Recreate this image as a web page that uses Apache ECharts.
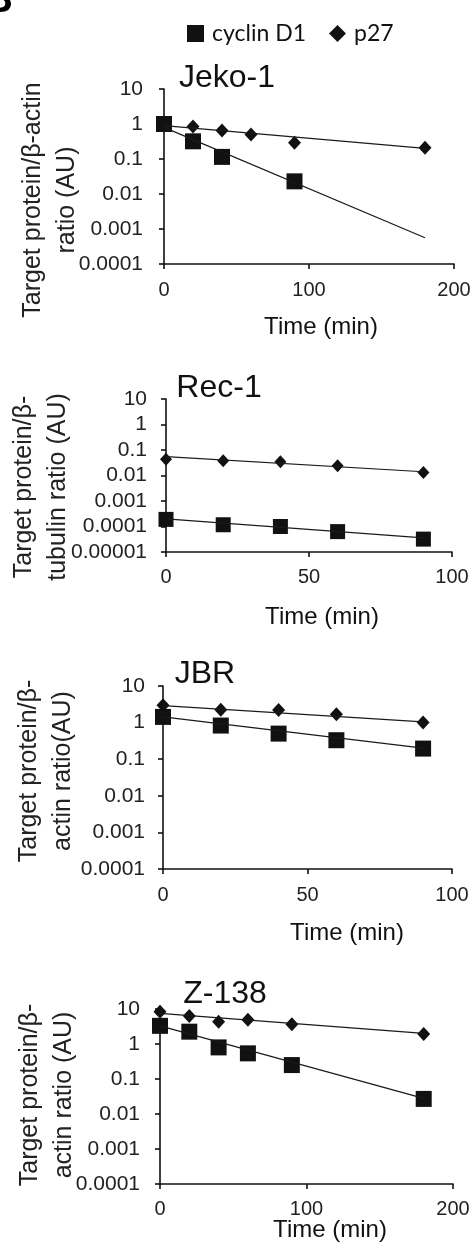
<!DOCTYPE html>
<html>
<head>
<meta charset="utf-8">
<script src="https://cdn.jsdelivr.net/npm/echarts@6/dist/echarts.min.js"></script>
<style>
html, body { margin: 0; padding: 0; background: #fff; }
#chart { width: 476px; height: 1244px; }
</style>
</head>
<body>
<div id="chart"></div>
<script>
// tick labels of the log axes
const yTicks4 = ['0.0001', '0.001', '0.01', '0.1', '1', '10'];
const yTicks5 = ['0.00001', '0.0001', '0.001', '0.01', '0.1', '1', '10'];

// Jeko-1
const jekoCycTime = [0, 20, 40, 90];
const jekoCyc = [1.0, 0.32, 0.115, 0.023];
const jekoP27Time = [0, 20, 40, 60, 90, 180];
const jekoP27 = [0.95, 0.85, 0.65, 0.5, 0.29, 0.21];
const jekoFitTime = [0, 180];
const jekoCycFit = [0.8, 0.00056];
const jekoP27Fit = [0.9, 0.2];

// Rec-1
const recTime = [0, 20, 40, 60, 90];
const recCyc = [0.00019, 0.000117, 0.0001, 0.000063, 0.000032];
const recP27 = [0.043, 0.038, 0.035, 0.024, 0.013];
const recFitTime = [0, 90];
const recCycFit = [0.0002, 0.000036];
const recP27Fit = [0.055, 0.014];

// JBR
const jbrTime = [0, 20, 40, 60, 90];
const jbrCyc = [1.43, 0.83, 0.5, 0.33, 0.195];
const jbrP27 = [2.96, 2.26, 2.2, 1.7, 1.0];
const jbrFitTime = [0, 90];
const jbrCycFit = [1.43, 0.2];
const jbrP27Fit = [2.9, 1.05];

// Z-138
const zTime = [0, 20, 40, 60, 90, 180];
const zCyc = [3.3, 2.25, 0.8, 0.54, 0.25, 0.027];
const zP27 = [8.4, 6.3, 4.35, 4.9, 3.65, 1.93];
const zFitTime = [0, 180];
const zCycFit = [3.3, 0.028];
const zP27Fit = [7.5, 2.0];

const FONT = '"Liberation Sans", Arial, sans-serif';
const INK = '#111';

const pts = (t, v) => t.map((x, i) => [x, v[i]]);

const panels = [
  { grid: { left: 164, top: 89, width: 290, height: 175 }, xMax: 200, xInt: 100, ticks: yTicks4, minExp: -4,
    yMargin: 21, xMargin: 16, sq: 16, dm: [13, 14],
    cyc: pts(jekoCycTime, jekoCyc), p27: pts(jekoP27Time, jekoP27),
    cycFit: pts(jekoFitTime, jekoCycFit), p27Fit: pts(jekoFitTime, jekoP27Fit) },
  { grid: { left: 166, top: 399, width: 286, height: 153 }, xMax: 100, xInt: 50, ticks: yTicks5, minExp: -5,
    yMargin: 19, xMargin: 15, sq: 15, dm: [12, 13],
    cyc: pts(recTime, recCyc), p27: pts(recTime, recP27),
    cycFit: pts(recFitTime, recCycFit), p27Fit: pts(recFitTime, recP27Fit) },
  { grid: { left: 163, top: 686, width: 289, height: 183 }, xMax: 100, xInt: 50, ticks: yTicks4, minExp: -4,
    yMargin: 18, xMargin: 16, sq: 16, dm: [13, 14],
    cyc: pts(jbrTime, jbrCyc), p27: pts(jbrTime, jbrP27),
    cycFit: pts(jbrFitTime, jbrCycFit), p27Fit: pts(jbrFitTime, jbrP27Fit) },
  { grid: { left: 160, top: 1009, width: 293, height: 175 }, xMax: 200, xInt: 100, ticks: yTicks4, minExp: -4,
    yMargin: 20, xMargin: 15, sq: 16, dm: [13, 14],
    cyc: pts(zTime, zCyc), p27: pts(zTime, zP27),
    cycFit: pts(zFitTime, zCycFit), p27Fit: pts(zFitTime, zP27Fit) }
];

const grids = [], xAxes = [], yAxes = [], series = [];

panels.forEach((p, i) => {
  grids.push(Object.assign({ containLabel: false }, p.grid));

  xAxes.push({
    gridIndex: i, type: 'value', min: 0, max: p.xMax, interval: p.xInt,
    axisLine: { show: true, lineStyle: { color: INK, width: 1.6 } },
    axisTick: { show: true, length: 5, lineStyle: { color: INK, width: 1.6 } },
    axisLabel: { color: '#222', fontSize: 20, fontFamily: FONT, margin: p.xMargin },
    splitLine: { show: false }
  });

  yAxes.push({
    gridIndex: i, type: 'log', logBase: 10,
    min: Math.pow(10, p.minExp), max: 10, interval: 1,
    axisLine: { show: true, lineStyle: { color: INK, width: 1.6 } },
    axisTick: { show: true, length: 5, lineStyle: { color: INK, width: 1.6 } },
    axisLabel: {
      color: '#222', fontSize: 21, fontFamily: FONT, margin: p.yMargin,
      formatter: v => p.ticks[Math.round(Math.log10(v)) - p.minExp]
    },
    splitLine: { show: false }
  });

  const lineStyle = { color: '#1a1a1a', width: 1.2 };
  series.push(
    { name: 'fit-cyc-' + i, type: 'line', xAxisIndex: i, yAxisIndex: i, data: p.cycFit,
      symbol: 'none', silent: true, lineStyle },
    { name: 'fit-p27-' + i, type: 'line', xAxisIndex: i, yAxisIndex: i, data: p.p27Fit,
      symbol: 'none', silent: true, lineStyle },
    { name: 'p27', type: 'scatter', xAxisIndex: i, yAxisIndex: i, data: p.p27,
      symbol: 'diamond', symbolSize: p.dm, itemStyle: { color: INK, opacity: 1 } },
    { name: 'cyclin D1', type: 'scatter', xAxisIndex: i, yAxisIndex: i, data: p.cyc,
      symbol: 'rect', symbolSize: p.sq, itemStyle: { color: INK, opacity: 1 } }
  );
});

const text = (x, y, str, size, extra) => Object.assign({
  type: 'text', x, y, silent: true,
  style: { text: str, fill: INK, font: size + 'px ' + FONT, textAlign: 'center', textVerticalAlign: 'middle' }
}, extra || {});

const yName = (x, y, str) => ({
  type: 'text', x, y, rotation: Math.PI / 2, silent: true,
  style: { text: str, fill: '#222', font: '25px ' + FONT, lineHeight: 34,
    textAlign: 'center', textVerticalAlign: 'middle' }
});

const graphic = [
  { type: 'text', x: -16, y: 1, silent: true,
    style: { text: 'B', fill: '#000', font: 'bold 40px ' + FONT, textAlign: 'left', textVerticalAlign: 'middle' } },
  text(227, 78, 'Jeko-1', 32),
  text(219, 388, 'Rec-1', 32),
  text(205, 674, 'JBR', 32),
  text(225, 994, 'Z-138', 32),
  text(321, 327, 'Time (min)', 24),
  text(322, 617, 'Time (min)', 24),
  text(347, 933, 'Time (min)', 24),
  text(330, 1230, 'Time (min)', 24),
  yName(50, 200, 'Target protein/β-actin\nratio (AU)'),
  yName(41, 487, 'Target protein/β-\ntubulin ratio (AU)'),
  yName(46, 771, 'Target protein/β-\nactin ratio(AU)'),
  yName(47, 1095, 'Target protein/β-\nactin ratio (AU)')
];

const chart = echarts.init(document.getElementById('chart'), null, { renderer: 'canvas' });
chart.setOption({
  animation: false,
  backgroundColor: '#fff',
  legend: {
    left: 182, top: 17, itemWidth: 17, itemHeight: 17, itemGap: 23,
    data: [{ name: 'cyclin D1', icon: 'rect' }, { name: 'p27', icon: 'diamond' }],
    textStyle: { fontFamily: 'Lato, sans-serif', fontSize: 23, color: INK, padding: [0, 0, 0, 3] },
    selectedMode: false
  },
  grid: grids,
  xAxis: xAxes,
  yAxis: yAxes,
  series,
  graphic
});
</script>
</body>
</html>
